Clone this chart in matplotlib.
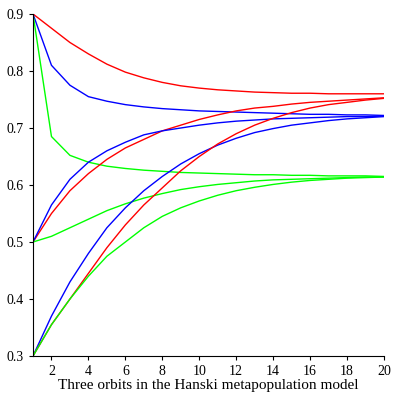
import matplotlib
matplotlib.use("Agg")
import matplotlib.pyplot as plt

x = list(range(1, 21))
red_top = [0.9,0.875,0.85,0.83,0.812,0.798,0.788,0.78,0.774,0.770,0.767,0.765,0.763,0.762,0.761,0.761,0.760,0.760,0.760,0.760]
blue_top = [0.9,0.81,0.775,0.755,0.747,0.741,0.737,0.734,0.732,0.730,0.729,0.728,0.727,0.726,0.725,0.724,0.724,0.723,0.723,0.722]
green_top = [0.9,0.685,0.652,0.64,0.633,0.629,0.626,0.624,0.622,0.621,0.620,0.619,0.618,0.618,0.617,0.617,0.616,0.616,0.616,0.615]
red_mid = [0.5,0.55,0.59,0.62,0.645,0.665,0.68,0.695,0.705,0.715,0.723,0.73,0.735,0.738,0.742,0.745,0.747,0.749,0.751,0.753]
blue_mid = [0.5,0.565,0.61,0.64,0.66,0.675,0.688,0.695,0.70,0.705,0.709,0.712,0.714,0.716,0.717,0.718,0.719,0.720,0.720,0.721]
green_mid = [0.5,0.51,0.525,0.54,0.555,0.567,0.577,0.585,0.592,0.597,0.601,0.604,0.607,0.609,0.61,0.611,0.612,0.613,0.614,0.614]
blue_low = [0.3,0.37,0.43,0.48,0.525,0.56,0.59,0.615,0.637,0.655,0.67,0.682,0.692,0.699,0.705,0.709,0.713,0.716,0.718,0.72]
red_low = [0.3,0.355,0.4,0.445,0.49,0.53,0.565,0.595,0.625,0.65,0.672,0.69,0.705,0.717,0.727,0.735,0.741,0.745,0.749,0.752]
green_low = [0.3,0.355,0.4,0.44,0.475,0.5,0.525,0.545,0.56,0.572,0.582,0.59,0.596,0.601,0.605,0.608,0.61,0.612,0.613,0.614]

plt.rcParams['font.family'] = ['Liberation Serif', 'DejaVu Serif']
fig = plt.figure(figsize=(4, 4), dpi=100)
ax = fig.add_axes([0.0825, 0.11, 0.8775, 0.855])
for ys, c in [(red_top,'red'),(blue_top,'blue'),(green_top,'#00ff00'),
              (red_mid,'red'),(blue_mid,'blue'),(green_mid,'#00ff00'),
              (blue_low,'blue'),(red_low,'red'),(green_low,'#00ff00')]:
    ax.plot(x, ys, color=c, lw=1)
ax.set_xlim(1, 20)
ax.set_ylim(0.3, 0.9)
ax.set_xticks(range(2, 21, 2))
ax.set_yticks([0.3,0.4,0.5,0.6,0.7,0.8,0.9])
ax.set_yticklabels(['0.3','0.4','0.5','0.6','0.7','0.8','0.9'])
for s in ['top','right']:
    ax.spines[s].set_visible(False)
ax.tick_params(labelsize=10, length=3)
ax.set_xlabel('Three orbits in the Hanski metapopulation model', fontsize=11, labelpad=1)
fig.savefig('out.png')
